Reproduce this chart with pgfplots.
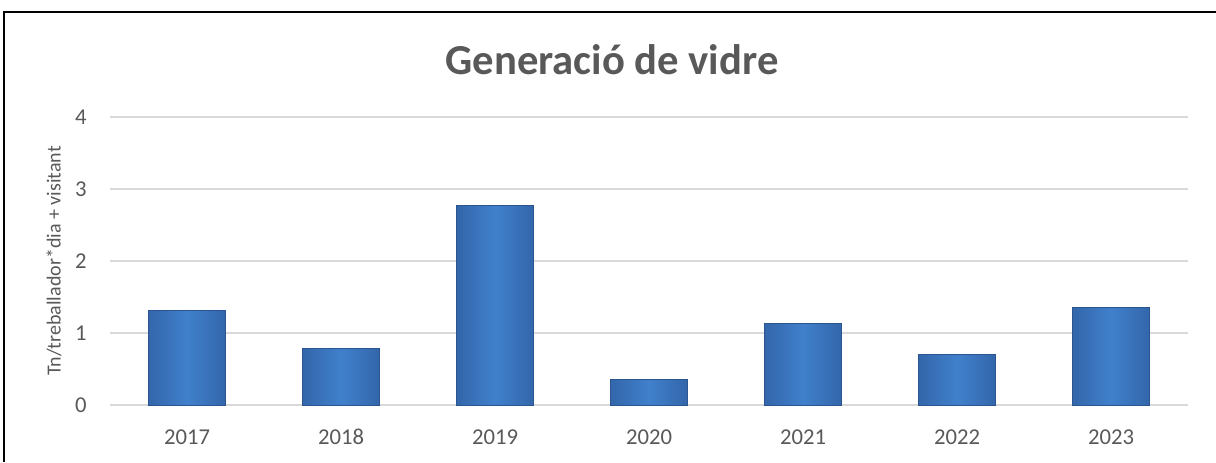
\documentclass[border=0pt]{standalone}
\usepackage{pgfplots}
\pgfplotsset{compat=1.18}
\usepackage{fontspec}
\setmainfont{Carlito}
\definecolor{txtgrey}{HTML}{595959}
\definecolor{gridgrey}{HTML}{D9D9D9}
\definecolor{barMid}{HTML}{4080CC}
\definecolor{barDark}{HTML}{3366AA}
\definecolor{barEdge}{HTML}{2A5590}
\pgfplotsset{barsty/.style={ybar, bar width=57.75pt, bar shift=0pt, draw=barEdge, line width=0.6pt, left color=barDark, right color=barDark, middle color=barMid, mark=none}}
\begin{document}
\begin{tikzpicture}
\path[use as bounding box] (0,0) rectangle (912pt,346.5pt);
\draw[black, line width=1.6pt] (3pt,0) -- (3pt,337.5pt) -- (912pt,337.5pt);
\node[text=txtgrey, font=\fontsize{32}{38}\selectfont\bfseries] at (459pt,302pt) {Generació de vidre};
\begin{axis}[
  at={(82.5pt,42.75pt)}, anchor=south west,
  scale only axis, width=808.5pt, height=216pt,
  xmin=-0.5, xmax=6.5, ymin=0, ymax=4,
  xtick={0,1,2,3,4,5,6},
  xticklabels={2017,2018,2019,2020,2021,2022,2023},
  ytick={0,1,2,3,4},
  major tick length=0pt,
  axis line style={draw=none},
  ymajorgrids, grid style={gridgrey, line width=1.1pt},
  tick label style={text=txtgrey, font=\fontsize{17}{20}\selectfont},
  /pgf/number format/assume math mode=true,
  yticklabel style={anchor=east, inner sep=0pt, xshift=-17.25pt},
  xticklabel style={anchor=center, inner sep=0pt, yshift=-24pt},
  ylabel={Tn/treballador*dia + visitant},
  ylabel style={at={(axis description cs:-0.052,0.5)}, anchor=center, text=txtgrey, font=\fontsize{15}{18}\selectfont},
  clip=false,
]
\addplot[barsty] coordinates {(0,1.31)};
\addplot[barsty] coordinates {(1,0.78)};
\addplot[barsty] coordinates {(2,2.77)};
\addplot[barsty] coordinates {(3,0.36)};
\addplot[barsty] coordinates {(4,1.13)};
\addplot[barsty] coordinates {(5,0.70)};
\addplot[barsty] coordinates {(6,1.36)};
\end{axis}
\end{tikzpicture}
\end{document}
